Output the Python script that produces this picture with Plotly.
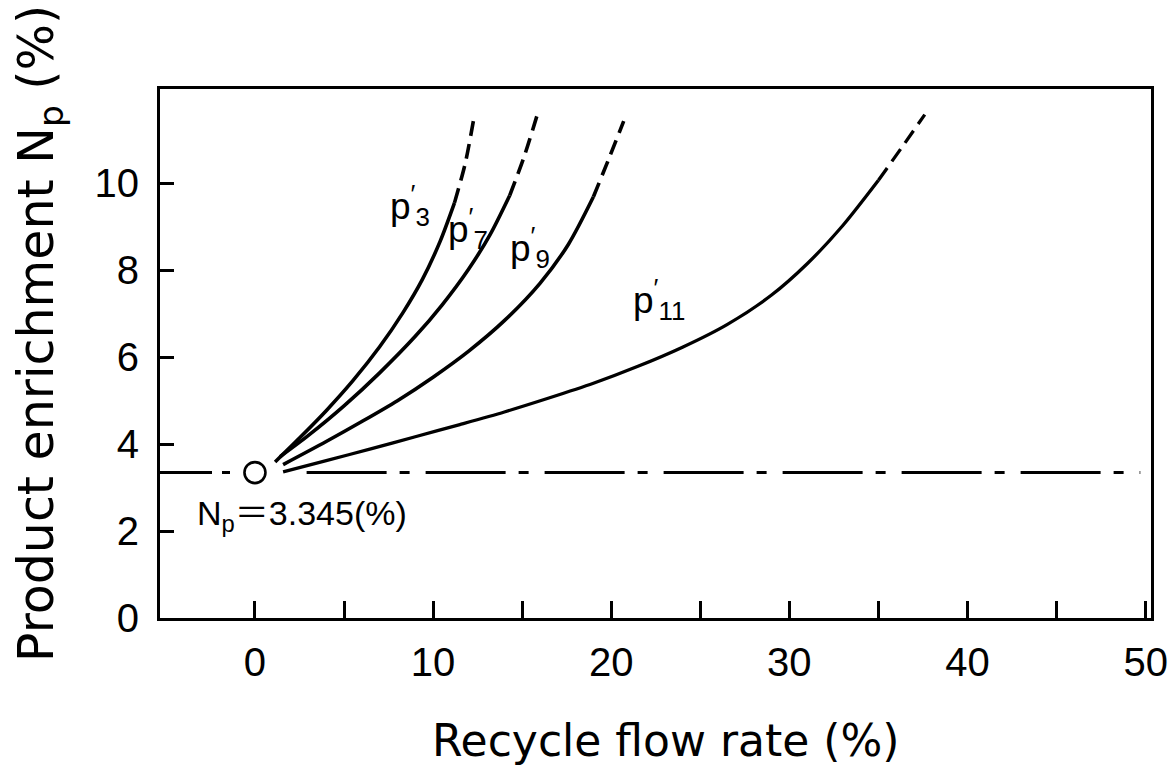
import plotly.graph_objects as go

# ---------------- data ----------------
x_tick_vals = [0, 10, 20, 30, 40, 50]
x_minor_vals = [5, 15, 25, 35, 45]
y_tick_vals = [0, 2, 4, 6, 8, 10]

baseline_value = 3.345
baseline_left_x = [-5.33, -1.4]
baseline_right_x = [2.9, 49.7]
origin_x = [0]
origin_y = [3.345]

p3_solid_x = [1.13, 2.5, 4.0, 5.5, 7.0, 8.3, 9.4, 10.4, 11.2]
p3_solid_y = [3.59, 4.14, 4.77, 5.46, 6.24, 7.02, 7.79, 8.67, 9.55]
p3_dash_x = [11.2, 11.8, 12.26]
p3_dash_y = [9.55, 10.45, 11.43]

p7_solid_x = [1.41, 3.0, 5.0, 7.0, 9.0, 10.5, 12.0, 13.2, 14.3]
p7_solid_y = [3.71, 4.20, 4.88, 5.64, 6.48, 7.20, 8.03, 8.82, 9.72]
p7_dash_x = [14.3, 15.1, 15.82]
p7_dash_y = [9.72, 10.6, 11.54]

p9_solid_x = [1.58, 4.0, 6.0, 8.0, 10.0, 12.0, 14.0, 16.0, 17.6, 19.0]
p9_solid_y = [3.53, 4.06, 4.52, 5.00, 5.54, 6.14, 6.84, 7.70, 8.60, 9.69]
p9_dash_x = [19.0, 19.9, 20.7]
p9_dash_y = [9.69, 10.6, 11.43]

p11_solid_x = [1.58, 4.0, 6.5, 9.0, 11.5, 14.0, 16.5, 19.0, 21.5, 24.0, 26.5, 29.0, 31.0, 33.0, 35.0]
p11_solid_y = [3.36, 3.62, 3.89, 4.17, 4.45, 4.74, 5.06, 5.40, 5.79, 6.23, 6.75, 7.43, 8.15, 9.03, 10.07]
p11_dash_x = [35.0, 36.3, 37.6]
p11_dash_y = [10.07, 10.82, 11.58]

curve_labels = ["p<sup>′</sup><sub>3</sub>", "p<sup>′</sup><sub>7</sub>",
                "p<sup>′</sup><sub>9</sub>", "p<sup>′</sup><sub>11</sub>"]
curve_label_x = [8.70, 11.95, 15.44, 22.7]
curve_label_y = [9.50, 8.95, 8.53, 7.32]

np_label = "N<sub>p</sub>＝3.345(%)"
np_label_x = -3.37
np_label_y = 2.35

x_title = "Recycle flow rate (%)"
y_title = "Product enrichment N<sub>p</sub> (%)"

# ---------------- figure ----------------
fig = go.Figure()
BLACK = "black"

fig.add_trace(go.Scatter(x=baseline_left_x, y=[baseline_value] * 2, mode="lines",
                         line=dict(color=BLACK, width=3, dash="52px,10px,8px,200px"),
                         showlegend=False, hoverinfo="skip"))
fig.add_trace(go.Scatter(x=baseline_right_x, y=[baseline_value] * 2, mode="lines",
                         line=dict(color=BLACK, width=3, dash="80px,13px,10px,16px"),
                         showlegend=False, hoverinfo="skip"))

curves = [
    (p3_solid_x, p3_solid_y, p3_dash_x, p3_dash_y, 3.6),
    (p7_solid_x, p7_solid_y, p7_dash_x, p7_dash_y, 3.6),
    (p9_solid_x, p9_solid_y, p9_dash_x, p9_dash_y, 3.6),
    (p11_solid_x, p11_solid_y, p11_dash_x, p11_dash_y, 3.3),
]
for sx, sy, dx, dy, w in curves:
    fig.add_trace(go.Scatter(x=sx, y=sy, mode="lines",
                             line=dict(color=BLACK, width=w, shape="spline", smoothing=0.8),
                             showlegend=False, hoverinfo="skip"))
    fig.add_trace(go.Scatter(x=dx, y=dy, mode="lines",
                             line=dict(color=BLACK, width=w, shape="spline", smoothing=0.8, dash="15px,8px"),
                             showlegend=False, hoverinfo="skip"))

fig.add_trace(go.Scatter(x=origin_x, y=origin_y, mode="markers",
                         marker=dict(symbol="circle-open", size=21, color=BLACK,
                                     line=dict(width=2.6, color=BLACK)),
                         showlegend=False, hoverinfo="skip"))

for t, lx, ly in zip(curve_labels, curve_label_x, curve_label_y):
    fig.add_annotation(x=lx, y=ly, text=t, showarrow=False, xanchor="center", yanchor="middle",
                       font=dict(family="Liberation Sans, Arial, sans-serif", size=37, color=BLACK))

fig.add_annotation(x=np_label_x, y=np_label_y, text=np_label, showarrow=False,
                   xanchor="left", yanchor="middle",
                   font=dict(family="Liberation Sans, Noto Sans CJK JP, sans-serif", size=34, color=BLACK))

fig.add_annotation(xref="paper", yref="paper", x=0.51, y=-0.231, text=x_title, showarrow=False,
                   xanchor="center", yanchor="middle",
                   font=dict(family="DejaVu Sans, sans-serif", size=44, color=BLACK))
fig.add_annotation(xref="paper", yref="paper", x=-0.121, y=0.537, text=y_title, showarrow=False,
                   textangle=-90, xanchor="center", yanchor="middle",
                   font=dict(family="DejaVu Sans, sans-serif", size=49, color=BLACK))

tick_font = dict(family="Liberation Sans, Arial, sans-serif", size=40, color=BLACK)

fig.update_xaxes(range=[-5.33, 50.3], tickvals=x_tick_vals, ticktext=[str(v) for v in x_tick_vals],
                 ticks="inside", ticklen=17, tickwidth=2.5, tickcolor=BLACK,
                 minor=dict(tickvals=x_minor_vals, ticks="inside", ticklen=17, tickwidth=2.5, tickcolor=BLACK),
                 showline=True, linewidth=3, linecolor=BLACK, mirror=True,
                 showgrid=False, zeroline=False, tickfont=tick_font, ticklabelstandoff=7,
                 ticklabeloverflow="allow")
fig.update_yaxes(range=[0, 12.17], tickvals=y_tick_vals, ticktext=[str(v) for v in y_tick_vals],
                 ticks="inside", ticklen=14, tickwidth=2.5, tickcolor=BLACK,
                 showline=True, linewidth=3, linecolor=BLACK, mirror=True,
                 showgrid=False, zeroline=False, tickfont=tick_font, ticklabelstandoff=10,
                 ticklabeloverflow="allow")

fig.update_layout(width=1168, height=767, autosize=False,
                  margin=dict(l=160, r=17, t=89, b=149, autoexpand=False),
                  paper_bgcolor="white", plot_bgcolor="white", showlegend=False)

fig.write_html("out.html")
